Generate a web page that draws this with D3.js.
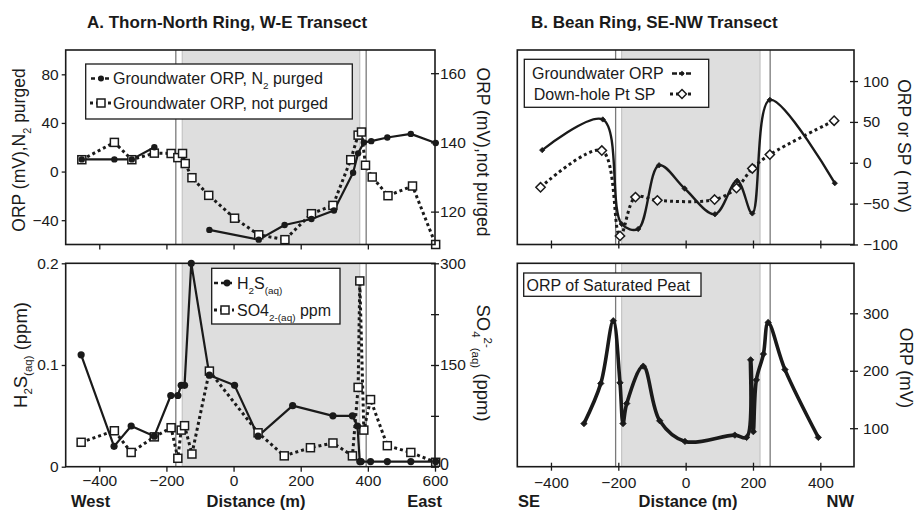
<!DOCTYPE html>
<html><head><meta charset="utf-8">
<script src="https://cdn.jsdelivr.net/npm/d3@7"></script>
<style>body{margin:0;background:#fff} svg{display:block}</style>
</head><body><svg id="c" width="917" height="515"></svg>
<script>
// ---------- DATA ----------
// Panel A top: groundwater ORP (Thorn-North Ring, W-E transect)
const purgedDist = [-452, -355, -303, -236, -150, -72, 75, 152, 232, 299, 356, 371, 388, 410, 458, 528, 602];
const purgedORP  = [10, 10, 10, 20, null, -48, -56, -44, -39, -32, -1, 15, 24, 25, 28, 31, 23.5];
const notPurgedDist = [-452, -355, -303, -236, -186, -166, -152, -144, -124, -74, 3, 75, 153, 232, 296, 349, 371, 381, 393, 413, 460, 533, 602];
const notPurgedORP  = [135, 140, 135, 136.9, 136.8, 135.6, 136.8, 133.9, 129.8, 124.7, 118.1, 113.3, 111.9, 119.4, 121.8, 135, 142.1, 143, 133.4, 130, 124.6, 127.4, 110.5];
// Panel A bottom: H2S and SO4
const h2sDist = [-454, -356, -305, -236, -187, -166, -156, -146, -126, -72, 3, 73, 176, 296, 354, 369, 376, 380, 408, 458, 528, 602];
const h2sPpm  = [0.11, 0.02, 0.04, 0.03, 0.07, 0.07, 0.08, 0.08, 0.2, 0.09, 0.08, 0.03, 0.06, 0.05, 0.05, 0.04, 0.005, 0.005, 0.005, 0.005, 0.005, 0.005];
const so4Dist = [-454, -355, -305, -236, -186, -166, -156, -146, -124, -72, 73, 151, 229, 296, 354, 371, 376, 388, 408, 458, 528, 602];
const so4Ppm  = [36, 53, 21, 44, 57.5, 12.4, 54, 60.5, 18.7, 141, 50, 16, 28, 35, 16, 117, 274, 54, 99, 31, 21, 6.5];
// Panel B top: Bean Ring groundwater ORP and down-hole SP
const gwDist = [-426, -246, -190, -141, -79, -3, 87, 153, 198, 250, 443];
const gwORP  = [15.5, 53, -75, -81, -3, -31.5, -63, -22, -62, 77, -25];
const spDist = [-431, -249, -195, -149, -84, 86, 151, 198, 250, 441];
const spMV   = [-30, 15, -89.5, -42, -46, -45, -31, -7, 10, 51.5];
// Panel B bottom: ORP of saturated peat
const peatDist = [-302, -252, -215, -195, -186, -175, -126, -77, -2, 146, 181, 193, 201, 210, 231, 245, 295, 394];
const peatORP  = [108, 178, 287, 179, 108, 143, 208, 113, 77, 88, 84, 219, 94, 184, 229, 284, 202, 84];
// Ring boundaries (distance, m)
const ringA = {outer: [-172, 395], shade: [-153, 376]};
const ringB = {outer: [-208, 251], shade: [-190, 221]};
// Tick values
const xTicksA = [-400, -200, 0, 200, 400, 600];
const xTicksB = [-400, -200, 0, 200, 400];
const aTopLeftTicks = [-40, 0, 40, 80];
const aTopRightTicks = [120, 140, 160];
const aBotLeftTicks = [0, 0.1, 0.2];
const aBotRightTicks = [0, 75, 150, 225, 300];
const bTopTicks = [-100, -50, 0, 50, 100];
const bBotTicks = [100, 200, 300];

// ---------- SETUP ----------
const svg = d3.select("#c");
const FONT = '"Liberation Sans", Arial, sans-serif';
const NARROW = '"Liberation Sans Narrow", "Arial Narrow", "Liberation Sans", Arial, sans-serif';
const INK = "#1a1a1a";

const A = {x0: 65.7, x1: 435};
const B = {x0: 517.3, x1: 854};
const pTop = {y0: 50, y1: 244.5};
const pBot = {y0: 263.3, y1: 466.7};

const xA = d3.scaleLinear().domain([-500, 600]).range([A.x0, A.x1]);
const xB = d3.scaleLinear().domain([-500, 500]).range([B.x0, B.x1]);
const yATL = d3.scaleLinear().domain([-60, 100]).range([pTop.y1, pTop.y0]);
const yATR = d3.scaleLinear().domain([110.5, 166.7]).range([pTop.y1, pTop.y0]);
const yABL = d3.scaleLinear().domain([0, 0.2]).range([pBot.y1, pBot.y0]);
const yABR = d3.scaleLinear().domain([0, 300]).range([pBot.y1, pBot.y0]);
const yBT = d3.scaleLinear().domain([-100, 138]).range([pTop.y1, pTop.y0]);
const yBB = d3.scaleLinear().domain([33, 387]).range([pBot.y1, pBot.y0]);

function zip(xs, ys) { return xs.map((d, i) => ({x: d, y: ys[i]})); }

function ringShading(x, ring, y0, y1) {
  const g = svg.append("g");
  g.append("rect").attr("x", x(ring.shade[0])).attr("y", y0)
    .attr("width", x(ring.shade[1]) - x(ring.shade[0])).attr("height", y1 - y0)
    .attr("fill", "#dedede");
  ring.shade.forEach(v => g.append("line").attr("x1", x(v)).attr("x2", x(v)).attr("y1", y0).attr("y2", y1)
    .attr("stroke", "#bdbdbd").attr("stroke-width", 1));
  ring.outer.forEach(v => g.append("line").attr("x1", x(v)).attr("x2", x(v)).attr("y1", y0).attr("y2", y1)
    .attr("stroke", "#7a7a7a").attr("stroke-width", 1.3));
}

function frame(x0, x1, y0, y1) {
  svg.append("rect").attr("x", x0).attr("y", y0).attr("width", x1 - x0).attr("height", y1 - y0)
    .attr("fill", "none").attr("stroke", INK).attr("stroke-width", 1.6);
}

function drawAxis(gen, tx, ty, cross, vertical) {
  const g = svg.append("g").attr("transform", `translate(${tx},${ty})`).call(gen);
  g.select(".domain").remove();
  g.selectAll(".tick line").attr("stroke", INK).attr("stroke-width", 1.3);
  g.selectAll(".tick text").attr("font-size", 15.5).attr("font-family", FONT).attr("fill", INK);
  if (cross) {
    g.selectAll(".tick line").each(function () {
      const l = d3.select(this);
      if (vertical) l.attr("x1", -(+l.attr("x2")));
      else l.attr("y1", -(+l.attr("y2")));
    });
  }
  return g;
}

function line(data, x, y, curve, dashed, width) {
  const gen = d3.line().defined(d => d.y !== null).x(d => x(d.x)).y(d => y(d.y));
  if (curve) gen.curve(d3.curveCatmullRom.alpha(0.5));
  svg.append("path").datum(data).attr("d", gen).attr("fill", "none").attr("stroke", INK)
    .attr("stroke-width", width).attr("stroke-dasharray", dashed ? "3,3" : null)
    .attr("stroke-linejoin", "round");
}

function circles(data, x, y, r) {
  svg.append("g").selectAll("circle").data(data.filter(d => d.y !== null)).join("circle")
    .attr("cx", d => x(d.x)).attr("cy", d => y(d.y)).attr("r", r).attr("fill", INK);
}
function squares(data, x, y, s) {
  svg.append("g").selectAll("rect").data(data).join("rect")
    .attr("x", d => x(d.x) - s / 2).attr("y", d => y(d.y) - s / 2).attr("width", s).attr("height", s)
    .attr("fill", "#fff").attr("stroke", INK).attr("stroke-width", 1.5);
}
function diamonds(data, x, y, size, filled) {
  svg.append("g").selectAll("path").data(data).join("path")
    .attr("transform", d => `translate(${x(d.x)},${y(d.y)})`)
    .attr("d", d3.symbol(d3.symbolDiamond2, size))
    .attr("fill", filled ? INK : "#fff").attr("stroke", INK).attr("stroke-width", filled ? 0.8 : 1.5);
}

function addParts(t, parts, size) {
  let shift = 0;
  parts.forEach(p => {
    const [txt, kind] = Array.isArray(p) ? p : [p, "n"];
    let target = 0, fs = size;
    if (kind === "sub") { target = size * 0.3; fs = size * 0.62; }
    if (kind === "sup") { target = -size * 0.35; fs = size * 0.62; }
    t.append("tspan").attr("dy", target - shift).attr("font-size", fs).text(txt);
    shift = target;
  });
}
function rotText(x, y, angle, parts, size) {
  // baseline offset so the cap-height is centred on (x, y)
  const off = size * 0.36;
  const bx = x + (angle > 0 ? -off : off);
  const t = svg.append("text").attr("transform", `translate(${bx},${y}) rotate(${angle})`)
    .attr("text-anchor", "middle")
    .attr("font-family", FONT).attr("font-size", size).attr("fill", INK);
  addParts(t, parts, size);
  return t;
}
function plainText(x, y, str, size, opts = {}) {
  const t = svg.append("text").attr("x", x).attr("y", y).attr("font-family", opts.font || FONT)
    .attr("font-size", size).attr("fill", INK).attr("font-weight", opts.bold ? "bold" : null)
    .attr("text-anchor", opts.anchor || "start");
  if (opts.parts) addParts(t, opts.parts, size); else t.text(str);
  return t;
}

// ---------- PANEL A TOP ----------
ringShading(xA, ringA, pTop.y0, pTop.y1);
const purged = zip(purgedDist, purgedORP);
const notPurged = zip(notPurgedDist, notPurgedORP);
line(notPurged, xA, yATR, false, true, 3);
line(purged, xA, yATL, false, false, 2.2);
squares(notPurged, xA, yATR, 8);
circles(purged, xA, yATL, 3.2);
frame(A.x0, A.x1, pTop.y0, pTop.y1);
drawAxis(d3.axisLeft(yATL).tickValues(aTopLeftTicks).tickSize(4).tickPadding(3).tickFormat(d3.format("d")), A.x0, 0);
drawAxis(d3.axisRight(yATR).tickValues(aTopRightTicks).tickSize(4).tickPadding(1), A.x1, 0, true, true);
drawAxis(d3.axisBottom(xA).tickValues([-400, -200, 0, 200, 400]).tickSize(5).tickFormat(""), 0, pTop.y1);
// legend
svg.append("rect").attr("x", 85.7).attr("y", 64).attr("width", 266.6).attr("height", 55)
  .attr("fill", "#fff").attr("stroke", INK).attr("stroke-width", 1.3);
svg.append("line").attr("x1", 91).attr("x2", 111).attr("y1", 78.5).attr("y2", 78.5).attr("stroke", INK).attr("stroke-width", 2.4).attr("stroke-dasharray", "4,3");
svg.append("circle").attr("cx", 101).attr("cy", 78.5).attr("r", 3).attr("fill", INK);
svg.append("line").attr("x1", 90).attr("x2", 112).attr("y1", 103).attr("y2", 103).attr("stroke", INK).attr("stroke-width", 3).attr("stroke-dasharray", "3,3");
svg.append("rect").attr("x", 97).attr("y", 99).attr("width", 8).attr("height", 8).attr("fill", "#fff").attr("stroke", INK).attr("stroke-width", 1.5);
plainText(113, 84, null, 16, {parts: ["Groundwater ORP, N", ["2", "sub"], [" purged", "n"]]});
plainText(113, 109, "Groundwater ORP, not purged", 16);
rotText(19, 150, -90, ["ORP (mV),N", ["2", "sub"], [" purged", "n"]], 17.5);
rotText(483, 152, 90, ["ORP (mV),not purged"], 17.5);

// ---------- PANEL A BOTTOM ----------
ringShading(xA, ringA, pBot.y0, pBot.y1);
const h2s = zip(h2sDist, h2sPpm);
const so4 = zip(so4Dist, so4Ppm);
line(so4, xA, yABR, false, true, 3);
line(h2s, xA, yABL, false, false, 2.2);
squares(so4, xA, yABR, 8);
circles(h2s, xA, yABL, 3.6);
frame(A.x0, A.x1, pBot.y0, pBot.y1);
drawAxis(d3.axisLeft(yABL).tickValues(aBotLeftTicks).tickSize(4).tickPadding(3).tickFormat(d => d === 0 ? "0" : d3.format(".1f")(d)), A.x0, 0);
const rA = drawAxis(d3.axisRight(yABR).tickValues(aBotRightTicks).tickSize(4).tickPadding(1)
  .tickFormat(d => (d % 150 === 0 ? d : "")), A.x1, 0, true, true);
rA.selectAll(".tick text").attr("font-size", d => d === 0 ? 16 : 15.5).attr("dy", d => d === 0 ? "0.2em" : "0.32em");
drawAxis(d3.axisBottom(xA).tickValues(xTicksA).tickSize(5).tickPadding(3), 0, pBot.y1);
// legend
svg.append("rect").attr("x", 211.7).attr("y", 268.3).attr("width", 128.3).attr("height", 55.7)
  .attr("fill", "#fff").attr("stroke", INK).attr("stroke-width", 1.3);
svg.append("line").attr("x1", 214).attr("x2", 232).attr("y1", 283).attr("y2", 283).attr("stroke", INK).attr("stroke-width", 2.4).attr("stroke-dasharray", "4,3");
svg.append("circle").attr("cx", 227).attr("cy", 283).attr("r", 3.4).attr("fill", INK);
svg.append("line").attr("x1", 214).attr("x2", 234).attr("y1", 310).attr("y2", 310).attr("stroke", INK).attr("stroke-width", 3).attr("stroke-dasharray", "3,3");
svg.append("rect").attr("x", 221).attr("y", 306).attr("width", 8).attr("height", 8).attr("fill", "#fff").attr("stroke", INK).attr("stroke-width", 1.5);
plainText(237, 289, null, 16, {parts: ["H", ["2", "sub"], ["S", "n"], ["(aq)", "sub"]]});
plainText(237, 316, null, 16, {parts: ["SO4", ["2-(aq)", "sub"], [" ppm", "n"]]});
rotText(20, 355, -90, ["H", ["2", "sub"], ["S", "n"], ["(aq)", "sub"], [" (ppm)", "n"]], 18.5);
rotText(484, 363, 90, ["SO", ["4", "sub"], ["2-", "sup"], ["(aq)", "sub"], [" (ppm)", "n"]], 18.5);
plainText(71, 507, "West", 16.5, {bold: true});
plainText(256, 507, "Distance (m)", 16.5, {bold: true, anchor: "middle"});
plainText(442, 507, "East", 16.5, {bold: true, anchor: "end"});

// ---------- PANEL B TOP ----------
ringShading(xB, ringB, pTop.y0, pTop.y1);
const gw = zip(gwDist, gwORP);
const sp = zip(spDist, spMV);
line(sp, xB, yBT, true, true, 3);
line(gw, xB, yBT, true, false, 2.4);
diamonds(sp, xB, yBT, 55, false);
diamonds(gw, xB, yBT, 18, true);
frame(B.x0, B.x1, pTop.y0, pTop.y1);
drawAxis(d3.axisRight(yBT).tickValues(bTopTicks).tickSize(4).tickPadding(5), B.x1, 0, true, true);
drawAxis(d3.axisBottom(xB).tickValues(xTicksB).tickSize(4).tickFormat(""), 0, pTop.y1, true, false);
// legend
svg.append("rect").attr("x", 524.3).attr("y", 59.3).attr("width", 184.4).attr("height", 48)
  .attr("fill", "#fff").attr("stroke", INK).attr("stroke-width", 1.3);
plainText(532, 79, "Groundwater ORP", 16);
svg.append("line").attr("x1", 672).attr("x2", 692).attr("y1", 73.5).attr("y2", 73.5).attr("stroke", INK).attr("stroke-width", 2.6).attr("stroke-dasharray", "5,2");
svg.append("path").attr("transform", "translate(682,73.5)").attr("d", d3.symbol(d3.symbolDiamond2, 18)).attr("fill", INK);
plainText(533.7, 100, "Down-hole Pt SP", 16);
svg.append("line").attr("x1", 670).attr("x2", 693).attr("y1", 94).attr("y2", 94).attr("stroke", INK).attr("stroke-width", 3).attr("stroke-dasharray", "3,3");
svg.append("path").attr("transform", "translate(682,94)").attr("d", d3.symbol(d3.symbolDiamond2, 50)).attr("fill", "#fff").attr("stroke", INK).attr("stroke-width", 1.5);
rotText(904, 146, 90, ["ORP or SP ( mV)"], 17.5);

// ---------- PANEL B BOTTOM ----------
ringShading(xB, ringB, pBot.y0, pBot.y1);
const peat = zip(peatDist, peatORP);
line(peat, xB, yBB, true, false, 3.6);
diamonds(peat, xB, yBB, 26, true);
frame(B.x0, B.x1, pBot.y0, pBot.y1);
drawAxis(d3.axisRight(yBB).tickValues(bBotTicks).tickSize(4).tickPadding(5), B.x1, 0, true, true);
drawAxis(d3.axisBottom(xB).tickValues(xTicksB).tickSize(4).tickPadding(6), 0, pBot.y1, true, false);
svg.append("rect").attr("x", 523.7).attr("y", 273).attr("width", 177.3).attr("height", 23.3)
  .attr("fill", "#fff").attr("stroke", INK).attr("stroke-width", 1.3);
plainText(526.5, 290.5, "ORP of Saturated Peat", 16);
rotText(906, 368, 90, ["ORP (mV)"], 17.5);
plainText(518, 507, "SE", 16.5, {bold: true});
plainText(688, 507, "Distance (m)", 16.5, {bold: true, anchor: "middle"});
plainText(854, 507, "NW", 16.5, {bold: true, anchor: "end"});

// ---------- TITLES ----------
plainText(87, 28, "A.  Thorn-North Ring, W-E Transect", 17, {bold: true, font: NARROW});
plainText(531, 28, "B.  Bean Ring, SE-NW Transect", 17, {bold: true, font: NARROW});
</script></body></html>
